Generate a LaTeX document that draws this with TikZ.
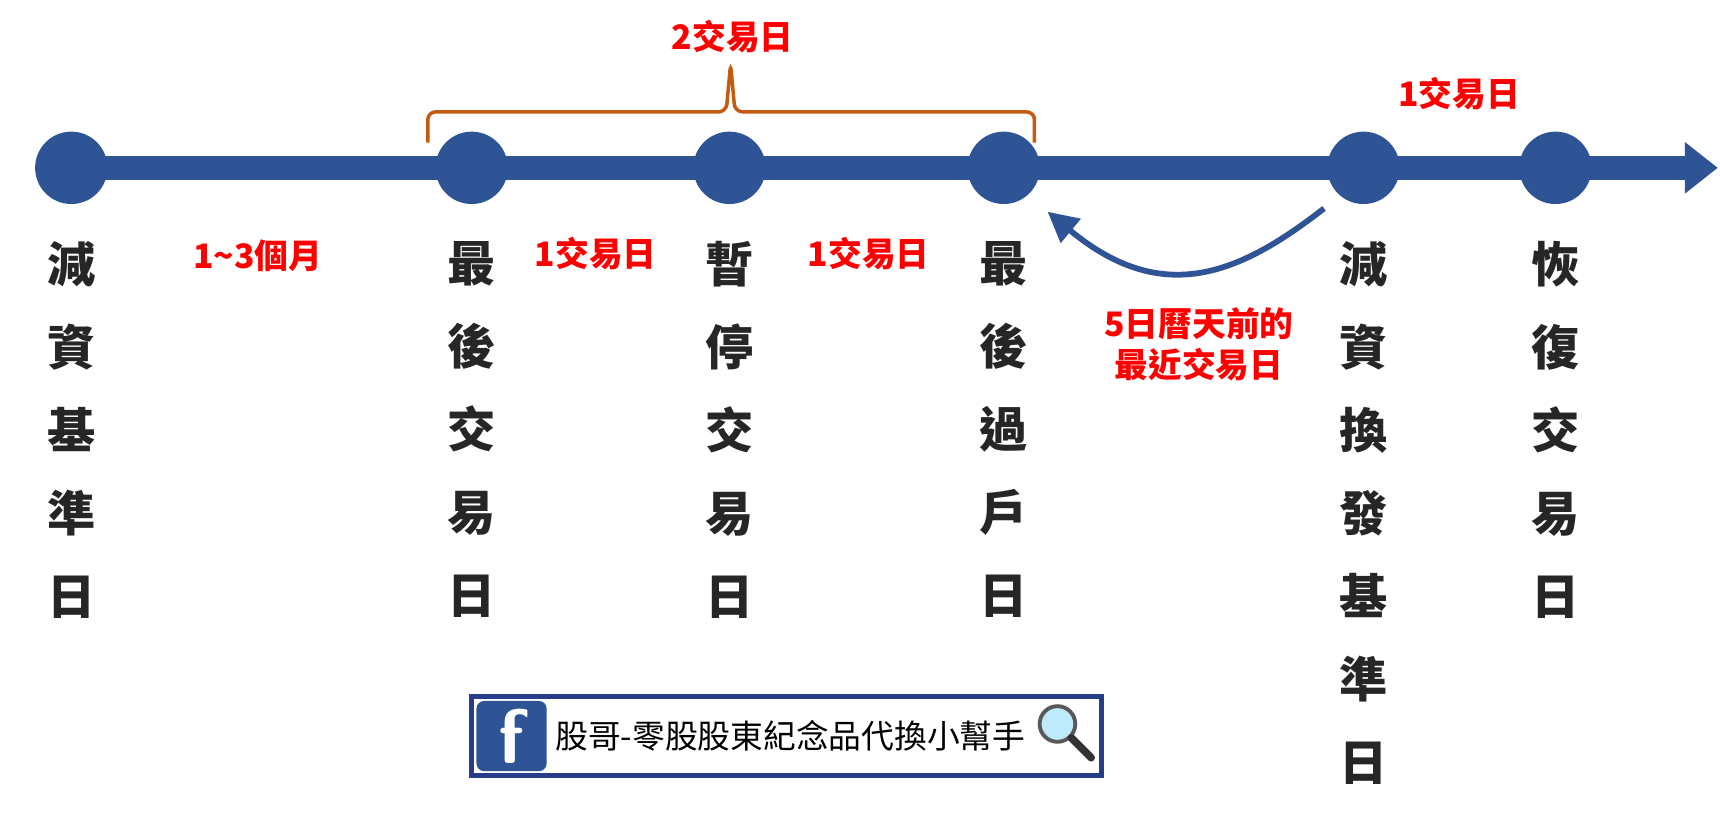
\documentclass[tikz,border=0pt]{standalone}
\usepackage{fontspec}
\newfontfamily\cjk{Noto Sans CJK TC}
\usetikzlibrary{arrows.meta,decorations.pathreplacing}
\definecolor{myBlue}{RGB}{47,84,150}
\definecolor{myNavy}{RGB}{40,60,140}
\definecolor{myOrange}{RGB}{197,90,17}
\tikzset{
  dot/.style={circle, fill=myBlue, minimum size=1.32cm, inner sep=0pt},
  stage/.style={font=\cjk\bfseries\fontsize{25}{31}\selectfont, text=black!85, align=center, anchor=north, inner sep=0pt},
  gap/.style={font=\cjk\bfseries\fontsize{17.5}{21}\selectfont, text=red, align=center, inner sep=0pt}
}
\begin{document}
\begin{tikzpicture}[x=0.02cm, y=-0.02cm]
  \useasboundingbox (0,0) rectangle (1568,750);
  % Zeitachse
  \draw[myBlue, line width=0.44cm, -{Triangle[length=0.6cm, width=0.9cm]}] (65,153) -- (1566,153);
  \foreach \n/\x in {a/65, b/430, c/665, d/915, e/1243, f/1418} {
    \node[dot] (\n) at (\x,153) {};
  }
  % Stufen
  \node[stage] (ta) at (65,220) {減\\[12pt]資\\[12pt]基\\[12pt]準\\[12pt]日};
  \node[stage] (tb) at (430,220) {最\\[12pt]後\\[12pt]交\\[12pt]易\\[12pt]日};
  \node[stage] (tc) at (665,220) {暫\\[12pt]停\\[12pt]交\\[12pt]易\\[12pt]日};
  \node[stage] (td) at (915,220) {最\\[12pt]後\\[12pt]過\\[12pt]戶\\[12pt]日};
  \node[stage] (te) at (1243,220) {減\\[12pt]資\\[12pt]換\\[12pt]發\\[12pt]基\\[12pt]準\\[12pt]日};
  \node[stage] (tf) at (1418,220) {恢\\[12pt]復\\[12pt]交\\[12pt]易\\[12pt]日};
  % Abstaende
  \node[gap] (g1) at (235,233) {1\textasciitilde3個月};
  \node[gap] (g2) at (543,231) {1交易日};
  \node[gap] (g3) at (792,231) {1交易日};
  \node[gap] (g4) at (1330,85) {1交易日};
  \node[gap] (g5) at (668,33) {2交易日};
  \node[gap] (g6) at (1093,314) {5日曆天前的\\最近交易日};
  % Klammer
  \draw[myOrange, line width=1.8pt, rounded corners=4pt]
    (390,130) -- (390,102) -- (662,102) -- (666,58) -- (670,102) -- (943,102) -- (943,130);
  % Pfeil
  \coordinate (p0) at (1207,190);
  \draw[myBlue, line width=3pt, -{Triangle[length=0.55cm, width=0.55cm]}]
    (p0) .. controls (1130,250) and (1060,280) .. (955,193);
  % Banner
  \node[draw=myNavy, line width=2.5pt, minimum width=11.5cm, minimum height=1.44cm, inner sep=0pt] (fb) at (717,671) {};
  \node[fill=myBlue, rounded corners=4pt, minimum size=1.28cm, inner sep=0pt,
        text=white, font=\sffamily\bfseries\fontsize{40}{40}\selectfont, anchor=west] (fbi) at (434,671) {f};
  \node[font=\cjk\fontsize{17}{20}\selectfont, anchor=west, inner sep=0pt] (fbt) at (506,671) {股哥-零股股東紀念品代換小幫手};
  \node[circle, draw=gray!70!black, line width=2pt, fill=cyan!25, minimum size=0.65cm, inner sep=0pt] (lens) at (964,660) {};
  \draw[gray!40!black, line width=4pt, line cap=round] (lens.south east) -- ++(18,18);
\end{tikzpicture}
\end{document}
